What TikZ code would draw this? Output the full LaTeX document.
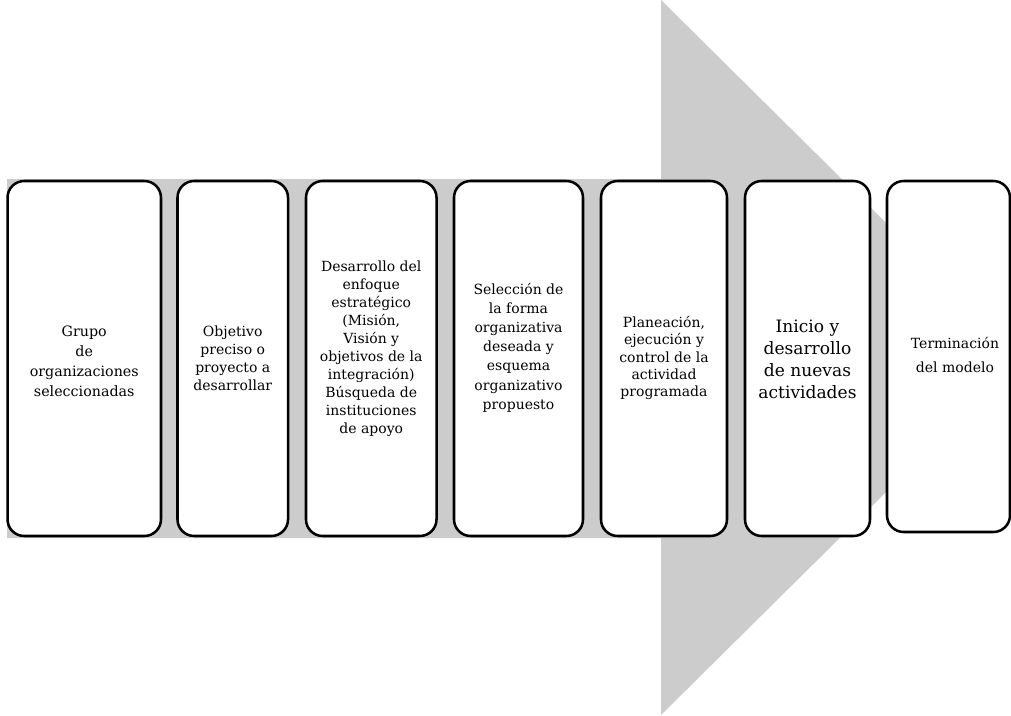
\documentclass[tikz,border=0pt]{standalone}
\usepackage{fontspec}
\setmainfont{DejaVu Serif}
\definecolor{arrowgray}{RGB}{204,204,204}
\tikzset{
  stagebox/.style={draw=black, line width=1.9pt, fill=white, rounded corners=12.5pt, inner sep=0pt},
  stagetext/.style={align=center, inner sep=0pt, text=black},
}
\begin{document}
\begin{tikzpicture}[x=0.75pt, y=-0.75pt]
\useasboundingbox (0,0) rectangle (1011,715);
\clip (0,0) rectangle (1011,715);
% big grey arrow
\fill[arrowgray] (7,179) -- (661,179) -- (661,0) -- (1022,357.5) -- (661,715) -- (661,538) -- (7,538) -- cycle;
% boxes
\node[stagebox, minimum width=115.1pt, minimum height=266.25pt] (b1) at (84.25,358.5) {};
\node[stagebox, minimum width=82.9pt, minimum height=266.25pt] (b2) at (232.75,358.5) {};
\node[stagebox, minimum width=97.9pt, minimum height=266.25pt] (b3) at (371.25,358.5) {};
\node[stagebox, minimum width=96.75pt, minimum height=266.25pt] (b4) at (518.5,358.5) {};
\node[stagebox, minimum width=94.5pt, minimum height=266.25pt] (b5) at (664,358.5) {};
\node[stagebox, minimum width=93.75pt, minimum height=266.25pt] (b6) at (807.5,358.5) {};
\node[stagebox, minimum width=92.25pt, minimum height=263.25pt] (b7) at (948.5,356.5) {};
% texts
\node[stagetext, font=\fontsize{10.7}{15}\selectfont] (t1) at (84.25,361.5) {Grupo\\de\\organizaciones\\seleccionadas};
\node[stagetext, font=\fontsize{10.5}{13.5}\selectfont] (t2) at (232.75,358) {Objetivo\\preciso o\\proyecto a\\desarrollar};
\node[stagetext, font=\fontsize{10.5}{13.5}\selectfont] (t3) at (371.25,349) {Desarrollo del\\enfoque\\estratégico\\(Misión,\\Visión y\\objetivos de la\\integración)\\Búsqueda de\\instituciones\\de apoyo};
\node[stagetext, font=\fontsize{10.5}{14.4}\selectfont] (t4) at (518.5,347.5) {Selección de\\la forma\\organizativa\\deseada y\\esquema\\organizativo\\propuesto};
\node[stagetext, font=\fontsize{10.5}{13.1}\selectfont] (t5) at (664,358) {Planeación,\\ejecución y\\control de la\\actividad\\programada};
\node[stagetext, font=\fontsize{12.8}{16.5}\selectfont] (t6) at (807.5,359) {Inicio y\\desarrollo\\de nuevas\\actividades};
\node[stagetext, font=\fontsize{10.5}{17.3}\selectfont] (t7) at (955,355) {Terminación\\del modelo};
\end{tikzpicture}
\end{document}
